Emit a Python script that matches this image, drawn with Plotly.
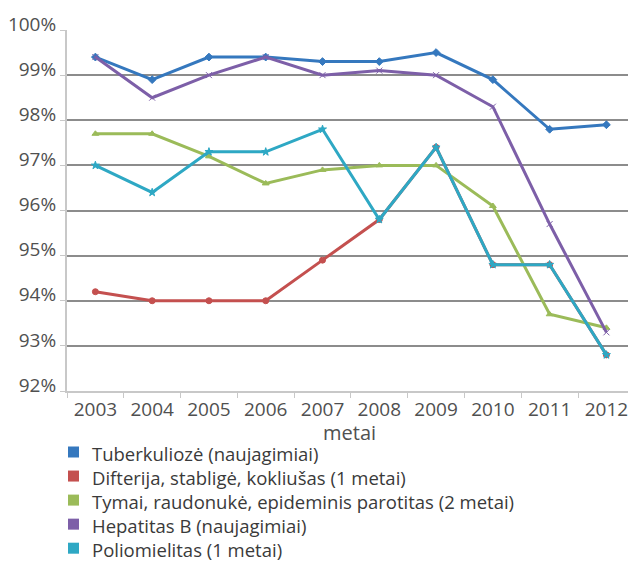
import plotly.graph_objects as go

years = ["2003", "2004", "2005", "2006", "2007", "2008", "2009", "2010", "2011", "2012"]

tuberkulioze = [99.4, 98.9, 99.4, 99.4, 99.3, 99.3, 99.5, 98.9, 97.8, 97.9]
difterija = [94.2, 94.0, 94.0, 94.0, 94.9, 95.8, 97.4, 94.8, 94.8, 92.8]
tymai = [97.7, 97.7, 97.2, 96.6, 96.9, 97.0, 97.0, 96.1, 93.7, 93.4]
hepatitas = [99.4, 98.5, 99.0, 99.4, 99.0, 99.1, 99.0, 98.3, 95.7, 93.3]
poliomielitas = [97.0, 96.4, 97.3, 97.3, 97.8, 95.8, 97.4, 94.8, 94.8, 92.8]

names = [
    "Tuberkuliozė (naujagimiai)",
    "Difterija, stabligė, kokliušas (1 metai)",
    "Tymai, raudonukė, epideminis parotitas (2 metai)",
    "Hepatitas B (naujagimiai)",
    "Poliomielitas (1 metai)",
]
series = [tuberkulioze, difterija, tymai, hepatitas, poliomielitas]
colors = ["#3578BE", "#C4504F", "#9BBB59", "#7D5FA8", "#2EA8C4"]
symbols = ["diamond", "circle", "triangle-up", "x-thin-open", "star"]

yticks = [92, 93, 94, 95, 96, 97, 98, 99, 100]
ytick_text = [f"{v}%" for v in yticks]

FONT = "Open Sans, Liberation Sans, Arial, sans-serif"

# plot-area geometry (pixels)
L, R, T, B = 67, 628, 30, 391
W, H = R - L, B - T

def px_x(px):
    return (px - L) / W

def px_y(py):
    return (B - py) / H

fig = go.Figure()

for name, vals, col, sym in zip(names, series, colors, symbols):
    fig.add_trace(go.Scatter(
        x=years, y=vals, mode="lines+markers", name=name,
        line=dict(color=col, width=3),
        marker=dict(symbol=sym, size=6, color=col, line=dict(color=col, width=1)),
        showlegend=False, cliponaxis=False,
    ))

# legend drawn as colored squares + one multi-line text block
LEG_SIZE = 18.5
line_h = LEG_SIZE * 1.3
first_y = 452
shapes = []
for i, col in enumerate(colors):
    cy = first_y + i * line_h
    shapes.append(dict(
        type="rect", xref="paper", yref="paper",
        x0=px_x(68), x1=px_x(79), y0=px_y(cy + 5.5), y1=px_y(cy - 5.5),
        fillcolor=col, line=dict(width=0),
    ))

annotations = [
    dict(
        text="<br>".join(names), xref="paper", yref="paper",
        x=px_x(91), y=px_y(first_y - line_h / 2),
        xanchor="left", yanchor="top", align="left", showarrow=False,
        borderpad=0,
        font=dict(size=LEG_SIZE, color="#3A3A3A", family=FONT),
    ),
    dict(
        text="metai", xref="paper", yref="paper", x=px_x(349), y=px_y(432),
        xanchor="center", yanchor="middle", showarrow=False, borderpad=0,
        font=dict(size=20, color="#505050", family=FONT),
    ),
]

fig.update_layout(
    width=628, height=561,
    margin=dict(l=L, r=628 - R, t=T, b=561 - B, autoexpand=False),
    paper_bgcolor="white", plot_bgcolor="white",
    font=dict(family=FONT, size=19, color="#404040"),
    showlegend=False,
    xaxis=dict(
        type="category", range=[-0.5, 9.38],
        showgrid=False, showline=True, linecolor="#C8C8C8", linewidth=2,
        ticks="outside", tickson="boundaries", ticklen=5, tickcolor="#C8C8C8", tickwidth=1,
        tickfont=dict(size=19, color="#505050", family=FONT),
        automargin=False,
    ),
    yaxis=dict(
        range=[92, 100], tickvals=yticks, ticktext=ytick_text,
        showgrid=True, gridcolor="#8C8C8C", gridwidth=2,
        showline=True, linecolor="#C8C8C8", linewidth=2,
        ticks="outside", ticklen=5, tickcolor="#C8C8C8",
        tickfont=dict(size=19, color="#505050", family=FONT),
        ticklabelshift=-6, zeroline=False, automargin=False,
    ),
    shapes=shapes,
    annotations=annotations,
)

fig.write_html("out.html")
